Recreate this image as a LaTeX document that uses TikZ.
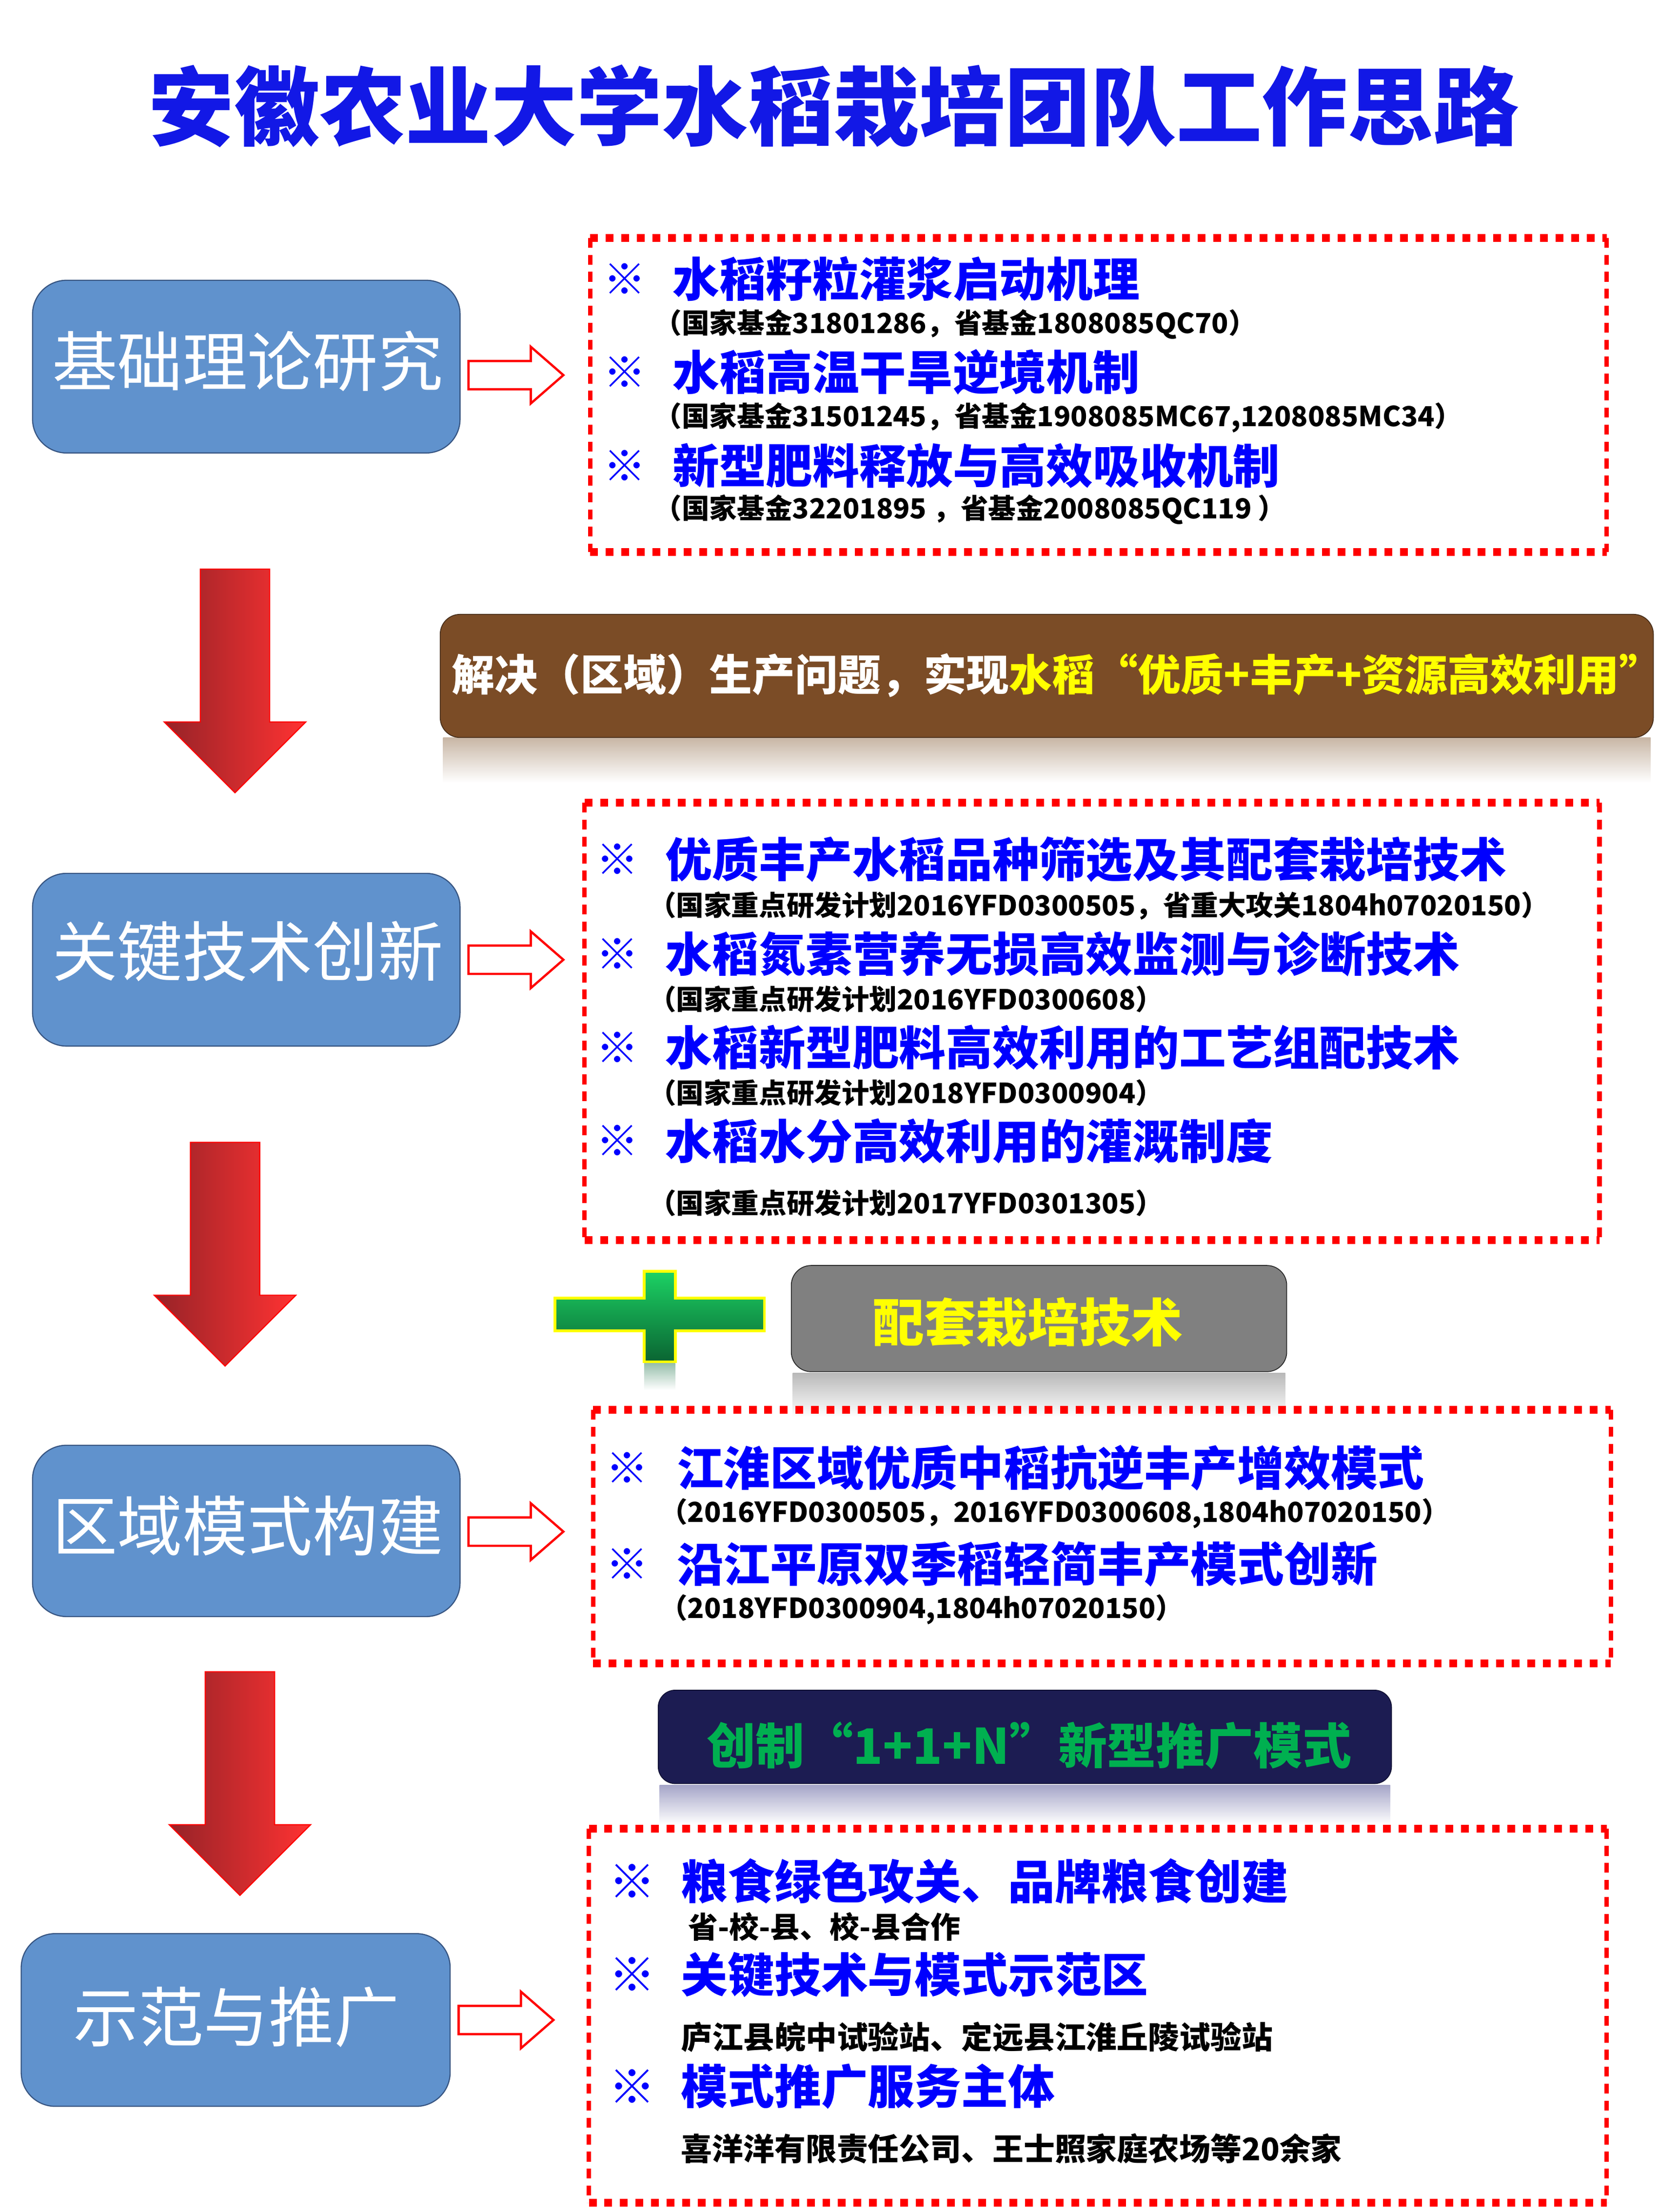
\documentclass[tikz,border=0pt]{standalone}
\usepackage{fontspec}
\setmainfont{Noto Sans CJK SC}
\usetikzlibrary{calc}
\definecolor{itemblue}{RGB}{0,0,255}
\definecolor{titleblue}{RGB}{18,24,230}
\definecolor{boxblue}{RGB}{96,146,205}
\definecolor{boxedge}{RGB}{55,85,130}
\definecolor{dashred}{RGB}{255,0,0}
\definecolor{brownbg}{RGB}{123,76,38}
\definecolor{navybg}{RGB}{28,28,82}
\definecolor{greentxt}{RGB}{0,176,80}
\definecolor{ylw}{RGB}{255,255,0}
\definecolor{darkred}{RGB}{150,35,40}
\definecolor{brightred}{RGB}{255,50,50}
\tikzset{
  leftbox/.style={draw=boxedge, line width=0.8pt, fill=boxblue, rounded corners=24pt},
  lefttext/.style={text=white, font=\fontsize{46}{50}\selectfont, inner sep=0pt},
  hollowarrow/.style={draw=dashred, line width=1.6pt, fill=white},
  dashtb/.style={draw=dashred, line width=5.5pt, dash pattern=on 5.5pt off 5.5pt},
  dashlr/.style={draw=dashred, line width=3.2pt, dash pattern=on 7pt off 5pt},
  refmark/.style={text=itemblue, font=\bfseries\fontsize{30}{32}\selectfont, inner sep=0pt, anchor=west},
  itemtext/.style={text=itemblue, font=\bfseries\fontsize{33}{36}\selectfont, inner sep=0pt, anchor=west},
  subtext/.style={text=black, font=\bfseries\fontsize{19.5}{22}\selectfont, inner sep=0pt, anchor=west},
  subtextb/.style={text=black, font=\bfseries\fontsize{22}{24}\selectfont, inner sep=0pt, anchor=west},
  downarrow/.style={draw=red, line width=0.8pt, left color=darkred, right color=brightred},
}
\newcommand{\dashrect}[4]{%
  \draw[dashtb] (#1,#2) -- (#3,#2);
  \draw[dashtb] (#1,#4) -- (#3,#4);
  \draw[dashlr] (#1,#2) -- (#1,#4);
  \draw[dashlr] (#3,#2) -- (#3,#4);
}
\begin{document}
\begin{tikzpicture}[x=1pt,y=-1pt]
\useasboundingbox (0,0) rectangle (1172,1562.667);
\fill[white] (0,0) rectangle (1172,1562.667);

% Title
\node[text=titleblue, font=\bfseries\fontsize{60.5}{64}\selectfont, inner sep=0pt] (title) at (589,75) {安徽农业大学水稻栽培团队工作思路};

% Left boxes
\draw[leftbox] (23,198) rectangle (325,320);
\node[lefttext] (b1) at (175,255) {基础理论研究};
\draw[leftbox] (23,617) rectangle (325,739);
\node[lefttext] (b2) at (175,672) {关键技术创新};
\draw[leftbox] (23,1021) rectangle (325,1142);
\node[lefttext] (b3) at (175,1078) {区域模式构建};
\draw[leftbox] (15,1366) rectangle (318,1488);
\node[lefttext] (b4) at (167,1425) {示范与推广};

% Hollow arrows
\foreach \ax/\ay in {331/265, 331/678, 331/1082, 324/1427}{
  \draw[hollowarrow] (\ax,\ay-10) -- (\ax+44,\ay-10) -- (\ax+44,\ay-20) -- (\ax+67,\ay) -- (\ax+44,\ay+20) -- (\ax+44,\ay+10) -- (\ax,\ay+10) -- cycle;
}

% Big red down arrows
\foreach \cx/\top in {166/402, 159/807, 169.5/1181}{
  \draw[downarrow] (\cx-24.5,\top) -- (\cx+24.5,\top) -- (\cx+24.5,\top+108) -- (\cx+50,\top+108) -- (\cx,\top+158) -- (\cx-50,\top+108) -- (\cx-24.5,\top+108) -- cycle;
}

% Brown banner with reflection
\shade[top color={rgb,255:red,200;green,182;blue,165}, bottom color=white] (313,521) rectangle (1166,553);
\draw[fill=brownbg, draw={rgb,255:red,70;green,45;blue,25}, line width=0.6pt, rounded corners=14pt] (311,434) rectangle (1168,521);
\node[inner sep=0pt, anchor=west, font=\bfseries\fontsize{30.3}{33}\selectfont] (banner) at (319,477)
  {\textcolor{white}{解决（区域）生产问题，实现}\textcolor{ylw}{水稻“优质+丰产+资源高效利用”}};

% Green plus with reflection
\shade[top color={rgb,255:red,150;green,190;blue,170}, bottom color=white] (455,963) rectangle (477,982);
\shade[draw=ylw, line width=2pt, top color={rgb,255:red,28;green,210;blue,100}, bottom color={rgb,255:red,10;green,100;blue,50}]
  (455,898) -- (477,898) -- (477,917) -- (540,917) -- (540,940) -- (477,940) -- (477,962) -- (455,962) -- (455,940) -- (392,940) -- (392,917) -- (455,917) -- cycle;

% Gray box with reflection
\shade[top color={rgb,255:red,185;green,185;blue,185}, bottom color=white] (560,970) rectangle (908,1001);
\draw[fill={rgb,255:red,128;green,128;blue,128}, draw={rgb,255:red,40;green,40;blue,40}, line width=0.6pt, rounded corners=14pt] (559,894) rectangle (909,969);
\node[text=ylw, font=\bfseries\fontsize{36.5}{40}\selectfont, inner sep=0pt] (g) at (726,934) {配套栽培技术};

% Navy box with reflection
\shade[top color={rgb,255:red,165;green,165;blue,200}, bottom color=white] (466,1261) rectangle (982,1289);
\draw[fill=navybg, draw={rgb,255:red,15;green,15;blue,50}, line width=0.6pt, rounded corners=12pt] (465,1194) rectangle (983,1260);
\node[text=greentxt, font=\bfseries\fontsize{34.5}{38}\selectfont, inner sep=0pt] (n) at (727,1233) {创制“1+1+N”新型推广模式};

% Dashed rectangles (drawn over the reflections)
\dashrect{417}{168}{1135}{390}
\dashrect{413}{567}{1130}{876}
\dashrect{419}{996}{1138}{1175}
\dashrect{416}{1292}{1135}{1556}

% R1 texts
\node[refmark] (r1m1) at (426,197) {※};
\node[itemtext] (r1t1) at (475,197) {水稻籽粒灌浆启动机理};
\node[subtext] (r1s1) at (462,229) {（国家基金31801286，省基金1808085QC70）};
\node[refmark] (r1m2) at (426,263) {※};
\node[itemtext] (r1t2) at (475,263) {水稻高温干旱逆境机制};
\node[subtext] (r1s2) at (462,295) {（国家基金31501245，省基金1908085MC67,1208085MC34）};
\node[refmark] (r1m3) at (426,329) {※};
\node[itemtext] (r1t3) at (475,329) {新型肥料释放与高效吸收机制};
\node[subtext] (r1s3) at (462,360) {（国家基金32201895 ，省基金2008085QC119 ）};

% R2 texts
\node[refmark] (r2m1) at (421,607) {※};
\node[itemtext] (r2t1) at (470,607) {优质丰产水稻品种筛选及其配套栽培技术};
\node[subtext] (r2s1) at (458,640) {（国家重点研发计划2016YFD0300505，省重大攻关1804h07020150）};
\node[refmark] (r2m2) at (421,674) {※};
\node[itemtext] (r2t2) at (470,674) {水稻氮素营养无损高效监测与诊断技术};
\node[subtext] (r2s2) at (458,706) {（国家重点研发计划2016YFD0300608）};
\node[refmark] (r2m3) at (421,740) {※};
\node[itemtext] (r2t3) at (470,740) {水稻新型肥料高效利用的工艺组配技术};
\node[subtext] (r2s3) at (458,772) {（国家重点研发计划2018YFD0300904）};
\node[refmark] (r2m4) at (421,806) {※};
\node[itemtext] (r2t4) at (470,806) {水稻水分高效利用的灌溉制度};
\node[subtext] (r2s4) at (458,850) {（国家重点研发计划2017YFD0301305）};

% R3 texts
\node[refmark] (r3m1) at (428,1037) {※};
\node[itemtext] (r3t1) at (478,1037) {江淮区域优质中稻抗逆丰产增效模式};
\node[subtext] (r3s1) at (466,1069) {（2016YFD0300505，2016YFD0300608,1804h07020150）};
\node[refmark] (r3m2) at (428,1105) {※};
\node[itemtext] (r3t2) at (478,1105) {沿江平原双季稻轻简丰产模式创新};
\node[subtext] (r3s2) at (466,1137) {（2018YFD0300904,1804h07020150）};

% R4 texts
\node[refmark, font=\bfseries\fontsize{33}{36}\selectfont] (r4m1) at (430,1329) {※};
\node[itemtext] (r4t1) at (481,1329) {粮食绿色攻关、品牌粮食创建};
\node[subtextb, font=\bfseries\fontsize{21}{24}\selectfont] (r4s1) at (486,1361) {省-校-县、校-县合作};
\node[refmark, font=\bfseries\fontsize{33}{36}\selectfont] (r4m2) at (430,1395) {※};
\node[itemtext] (r4t2) at (481,1395) {关键技术与模式示范区};
\node[subtextb] (r4s2) at (481,1439) {庐江县皖中试验站、定远县江淮丘陵试验站};
\node[refmark, font=\bfseries\fontsize{33}{36}\selectfont] (r4m3) at (430,1474) {※};
\node[itemtext] (r4t3) at (481,1474) {模式推广服务主体};
\node[subtextb] (r4s3) at (481,1518) {喜洋洋有限责任公司、王士照家庭农场等20余家};
\end{tikzpicture}
\end{document}
